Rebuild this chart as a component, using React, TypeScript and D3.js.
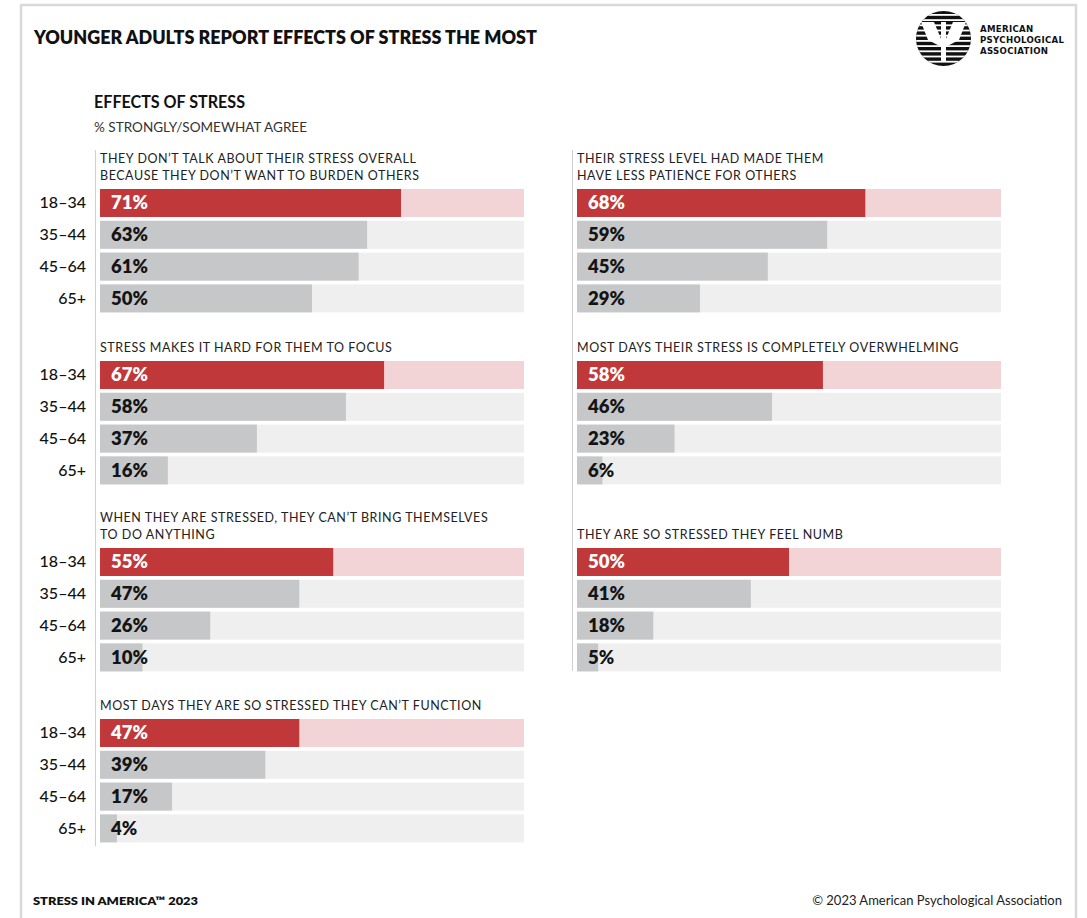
import React from "react";
import * as d3 from "d3";

const ages: string[] = ["18–34", "35–44", "45–64", "65+"];

const statements: string[][] = [
  ["THEY DON’T TALK ABOUT THEIR STRESS OVERALL", "BECAUSE THEY DON’T WANT TO BURDEN OTHERS"],
  ["THEIR STRESS LEVEL HAD MADE THEM", "HAVE LESS PATIENCE FOR OTHERS"],
  ["STRESS MAKES IT HARD FOR THEM TO FOCUS"],
  ["MOST DAYS THEIR STRESS IS COMPLETELY OVERWHELMING"],
  ["WHEN THEY ARE STRESSED, THEY CAN’T BRING THEMSELVES", "TO DO ANYTHING"],
  ["THEY ARE SO STRESSED THEY FEEL NUMB"],
  ["MOST DAYS THEY ARE SO STRESSED THEY CAN’T FUNCTION"],
];

const values: number[][] = [
  [71, 63, 61, 50],
  [68, 59, 45, 29],
  [67, 58, 37, 16],
  [58, 46, 23, 6],
  [55, 47, 26, 10],
  [50, 41, 18, 5],
  [47, 39, 17, 4],
];

const title = "YOUNGER ADULTS REPORT EFFECTS OF STRESS THE MOST";
const subtitle = "EFFECTS OF STRESS";
const subsubtitle = "% STRONGLY/SOMEWHAT AGREE";
const footLeft = "STRESS IN AMERICA™ 2023";
const footRight = "© 2023 American Psychological Association";
const logoLines = ["AMERICAN", "PSYCHOLOGICAL", "ASSOCIATION"];

const W = 1087;
const H = 918;
const FONT = "Lato, 'Open Sans', sans-serif";
const RED = "#c1383b";
const PINK = "#f3d4d6";
const GREY = "#c6c7c9";
const TRACK = "#efefef";

const panelX = [100, 577];
const rowTops = [189, 361, 548, 719];

const x = d3.scaleLinear().domain([0, 100]).range([0, 424]);
const y = d3.scaleBand<string>().domain(ages).range([0, 123.4]).paddingInner(0.12).paddingOuter(0);

function Group({ idx, col, row }: { idx: number; col: number; row: number }) {
  const x0 = panelX[col];
  const top = rowTops[row];
  const lines = statements[idx];
  const vals = values[idx];
  const lastBase = top - 9.5;
  return (
    <g>
      {lines.map((l, i) => (
        <text
          key={i}
          x={x0}
          y={lastBase - (lines.length - 1 - i) * 16.5}
          fontFamily={FONT}
          fontSize={12.5}
          letterSpacing={0.55}
          fill="#222"
        >
          {l}
        </text>
      ))}
      {ages.map((a, i) => {
        const yy = top + (y(a) as number);
        const bh = y.bandwidth();
        const first = i === 0;
        return (
          <g key={a}>
            <rect x={x0} y={yy} width={x(100)} height={bh} fill={first ? PINK : TRACK} />
            <rect x={x0} y={yy} width={x(vals[i])} height={bh} fill={first ? RED : GREY} />
            {col === 0 && (
              <text
                x={86}
                y={yy + bh / 2 + 5.5}
                textAnchor="end"
                fontFamily={FONT}
                fontWeight={500}
                fontSize={16}
                fill="#111"
              >
                {a}
              </text>
            )}
            <text
              x={x0 + 11}
              y={yy + bh / 2 + 6.5}
              fontFamily={FONT}
              fontWeight={800}
              fontSize={18.5}
              fill={first ? "#ffffff" : "#141414"}
            >
              {vals[i]}%
            </text>
          </g>
        );
      })}
    </g>
  );
}

function Logo() {
  const cx = 943.5;
  const cy = 38.5;
  const r = 27.5;
  const stripes = d3.range(cy - r + 3, cy + r, 5.2);
  const mirror = (pts: number[][]) => pts.map(([px, py]) => [2 * cx - px, py]);
  const leftArm = [
    [921, 22],
    [934, 22],
    [941.5, 40],
    [941.5, 47],
    [928, 40],
  ];
  const toPath = (pts: number[][]) => "M" + pts.map((p) => p.join(",")).join("L") + "Z";
  return (
    <g>
      <defs>
        <clipPath id="logoClip">
          <circle cx={cx} cy={cy} r={r} />
        </clipPath>
      </defs>
      <circle cx={cx} cy={cy} r={r} fill="#111" />
      <g clipPath="url(#logoClip)">
        {stripes.map((s, i) => (
          <rect key={i} x={cx - r} y={s} width={2 * r} height={1.8} fill="#fff" />
        ))}
      </g>
      <path d={toPath(leftArm)} fill="#fff" />
      <path d={toPath(mirror(leftArm))} fill="#fff" />
      <rect x={941} y={22} width={5} height={39} fill="#fff" />
      {logoLines.map((t, i) => (
        <text
          key={t}
          x={980}
          y={32 + i * 11.2}
          fontFamily="'DejaVu Sans', sans-serif"
          fontWeight={700}
          fontSize={8.6}
          letterSpacing={0.3}
          fill="#111"
        >
          {t}
        </text>
      ))}
    </g>
  );
}

export default function App() {
  const layout: { idx: number; col: number; row: number }[] = [
    { idx: 0, col: 0, row: 0 },
    { idx: 1, col: 1, row: 0 },
    { idx: 2, col: 0, row: 1 },
    { idx: 3, col: 1, row: 1 },
    { idx: 4, col: 0, row: 2 },
    { idx: 5, col: 1, row: 2 },
    { idx: 6, col: 0, row: 3 },
  ];
  return (
    <svg
      width={W}
      height={H}
      viewBox={`0 0 ${W} ${H}`}
      style={{ position: "absolute", left: 0, top: 0, background: "#fff" }}
    >
      <rect x={0} y={0} width={W} height={H} fill="#fff" />
      <path d={`M21,${H}V5H1076V${H}`} fill="none" stroke="#d9d9d9" strokeWidth={2.5} />
      <text x={34} y={43.5} fontFamily={FONT} fontWeight={800} fontSize={19} textLength={503} lengthAdjust="spacingAndGlyphs" fill="#111">
        {title}
      </text>
      <Logo />
      <text x={94} y={108.3} fontFamily={FONT} fontWeight={700} fontSize={16.5} textLength={151} lengthAdjust="spacingAndGlyphs" fill="#111">
        {subtitle}
      </text>
      <text x={94} y={131.5} fontFamily={FONT} fontSize={13} textLength={213} lengthAdjust="spacingAndGlyphs" fill="#333">
        {subsubtitle}
      </text>
      <line x1={95.5} x2={95.5} y1={150} y2={846} stroke="#cfcfcf" strokeWidth={1} />
      <line x1={572.5} x2={572.5} y1={150} y2={671} stroke="#cfcfcf" strokeWidth={1} />
      {layout.map((l) => (
        <Group key={l.idx} {...l} />
      ))}
      <text x={33} y={905} fontFamily={FONT} fontWeight={800} fontSize={11.5} textLength={165} lengthAdjust="spacingAndGlyphs" fill="#111">
        {footLeft}
      </text>
      <text x={1062} y={905} textAnchor="end" fontFamily={FONT} fontSize={13} fill="#222">
        {footRight}
      </text>
    </svg>
  );
}
